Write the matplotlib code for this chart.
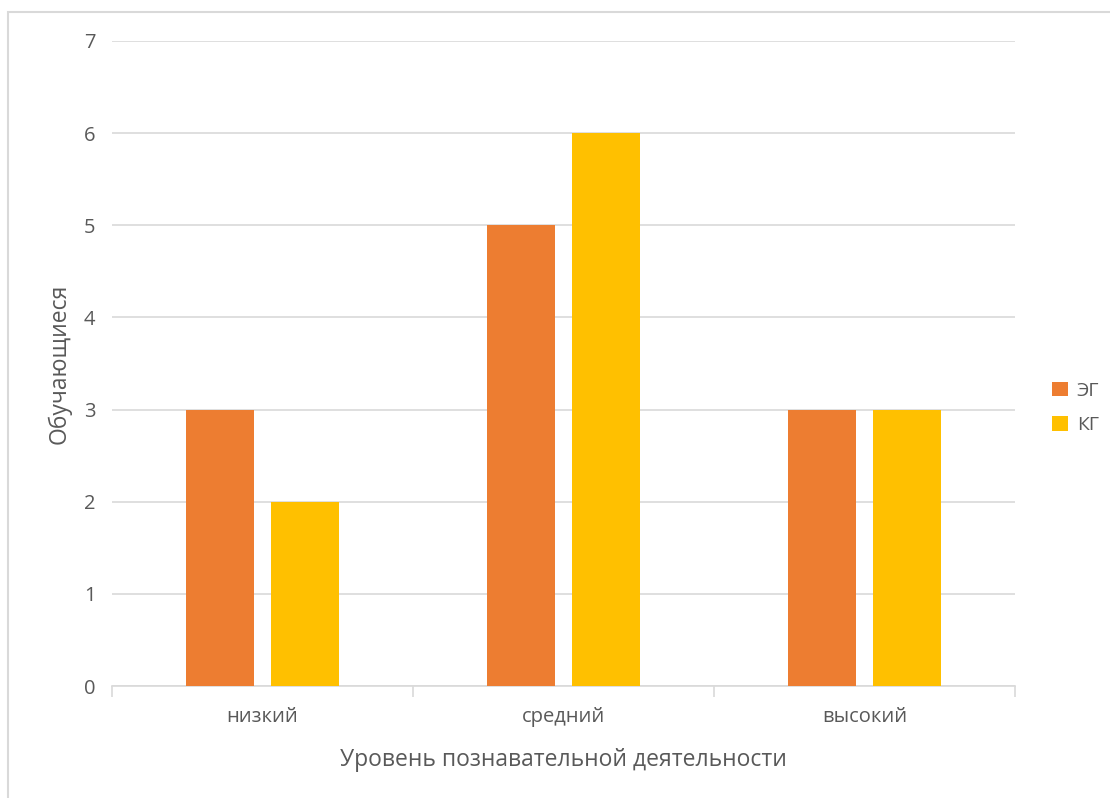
import matplotlib
matplotlib.use("Agg")
import matplotlib.pyplot as plt
import numpy as np
from matplotlib.patches import Rectangle

categories = ["низкий", "средний", "высокий"]
eg_values = [3, 5, 3]
kg_values = [2, 6, 3]
series_names = ["ЭГ", "КГ"]
y_ticks = [0, 1, 2, 3, 4, 5, 6, 7]

plt.rcParams['font.family'] = ['Open Sans', 'DejaVu Sans']
text_color = '#595959'
grid_color = '#d9d9d9'

fig = plt.figure(figsize=(11.1, 7.98), dpi=100)
ax = fig.add_axes([112/1110, 1 - 686/798, (1015 - 112)/1110, (686 - 41)/798])

# outer chart border
fig.patches.append(Rectangle((8/1110, -0.05), 1.1, 1 - 12/798 + 0.05,
                             transform=fig.transFigure, fill=False,
                             edgecolor='#d9d9d9', linewidth=1.5))

x = np.arange(len(categories))
w = 0.223
off = 0.141
ax.bar(x - off, eg_values, w, color='#ED7D31', label=series_names[0], zorder=3)
ax.bar(x + off, kg_values, w, color='#FFC000', label=series_names[1], zorder=3)

ax.set_xlim(-0.5, 2.5)
ax.set_ylim(0, 7)
ax.set_yticks(y_ticks)
ax.yaxis.grid(True, color=grid_color, linewidth=1.2, zorder=0)
for s in ['top', 'right', 'left']:
    ax.spines[s].set_visible(False)
ax.spines['bottom'].set_color(grid_color)
ax.spines['bottom'].set_linewidth(1.2)

# category ticks at the boundaries
ax.set_xticks([-0.5, 0.5, 1.5, 2.5])
ax.set_xticklabels([])
ax.set_xticks(x, minor=True)
ax.set_xticklabels(categories, minor=True)
ax.tick_params(axis='x', which='major', length=8, color=grid_color, width=1.2)
ax.tick_params(axis='x', which='minor', length=0, pad=15, labelsize=14.5, labelcolor=text_color)
ax.tick_params(axis='y', length=0, pad=12, labelsize=14.5, labelcolor=text_color)

ax.set_xlabel("Уровень познавательной деятельности", fontsize=16.5, color=text_color, labelpad=15)
ax.set_ylabel("Обучающиеся", fontsize=16.5, color=text_color, labelpad=9)

leg = ax.legend(loc='center left', bbox_to_anchor=(1.022, 0.431), frameon=False,
                fontsize=14, handlelength=0.8, handleheight=0.8, labelspacing=0.85,
                handletextpad=0.45)
for t in leg.get_texts():
    t.set_color(text_color)

fig.savefig("out.png", dpi=100)
